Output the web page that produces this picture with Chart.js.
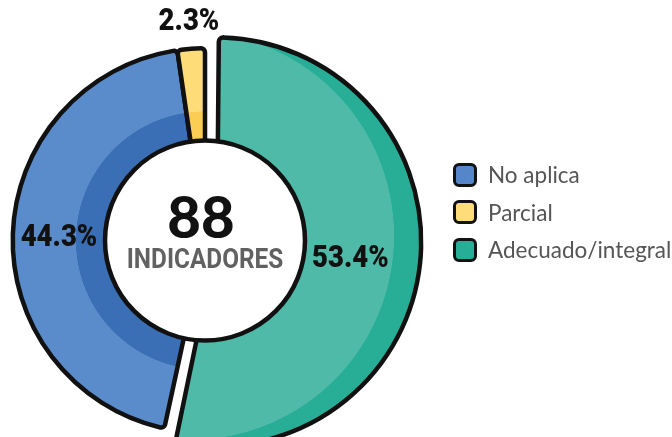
<!DOCTYPE html>
<html lang="es">
<head>
<meta charset="utf-8">
<title>Indicadores</title>
<script src="https://cdn.jsdelivr.net/npm/chart.js@4.4.1/dist/chart.umd.min.js"></script>
<style>
    html, body { margin: 0; padding: 0; background: #fff; }
    #wrap { position: relative; width: 672px; height: 437px; overflow: hidden; }
    /* el lienzo es algo mayor que la ventana para centrar el anillo como en el original */
    #contenedor { position: absolute; left: -14px; top: 0; width: 686px; height: 459px; }
    #leyenda { position: absolute; left: 453px; top: 156px; font-family: Lato, 'Open Sans', sans-serif; }
    .item { display: flex; align-items: center; height: 37.5px; font-size: 22.5px; color: #555; white-space: nowrap; }
    .caja { width: 18px; height: 18px; border: 3px solid #111; border-radius: 6px; margin-right: 11px; }
</style>
</head>
<body>
<div id="wrap">
    <div id="contenedor"><canvas id="grafico"></canvas></div>
    <div id="leyenda"></div>
</div>
<script>
// datos del gráfico
const categorias = ['No aplica', 'Parcial', 'Adecuado/integral'];
const porcentajes = [44.3, 2.3, 53.4];
const totalIndicadores = 88;

// colores de cada segmento (tono claro / tono oscuro)
const coloresClaros = ['#5a8bcb', '#fedd79', '#4fbaa8'];
const coloresOscuros = ['#3a6eb5', '#fbcd55', '#28ae96'];
const coloresLeyenda = ['#5586c9', '#fedd78', '#28ae96'];

const suma = porcentajes.reduce((a, b) => a + b, 0);
const etiquetas = porcentajes.map(v => v.toFixed(1) + '%');

// relleno en dos tonos con un degradado radial de corte duro
function rellenoBanda(ctx) {
    const i = ctx.dataIndex;
    const chart = ctx.chart;
    const area = chart.chartArea;
    const ctrl = chart.getDatasetMeta(0).controller;
    if (i === undefined || !area || !ctrl || !ctrl.outerRadius) return coloresClaros[i] || '#999';

    const R = ctrl.outerRadius;
    let cx = (area.left + area.right) / 2;
    let cy = (area.top + area.bottom) / 2;
    let rb, dentro, fuera;
    if (i === 2) {
        // verde: banda oscura por fuera, en media luna
        cx -= 27;
        cy -= 6;
        rb = R * 1.06;
        dentro = coloresClaros[i];
        fuera = coloresOscuros[i];
    } else {
        rb = R * 0.67;
        dentro = coloresOscuros[i];
        fuera = coloresClaros[i];
    }
    const rMax = R * 1.5;
    const g = chart.ctx.createRadialGradient(cx, cy, 0, cx, cy, rMax);
    const s = rb / rMax;
    g.addColorStop(0, dentro);
    g.addColorStop(s, dentro);
    g.addColorStop(Math.min(s + 0.002, 1), fuera);
    g.addColorStop(1, fuera);
    return g;
}

// texto comprimido a lo ancho
function textoCondensado(c, txt, x, y, escala) {
    c.save();
    c.translate(x, y);
    c.scale(escala, 1);
    c.fillText(txt, 0, 0);
    c.restore();
}

// círculo central, total y etiquetas de porcentaje
const centroPlugin = {
    id: 'centro',
    afterDatasetsDraw(chart) {
        const c = chart.ctx;
        const arcos = chart.getDatasetMeta(0).data;
        const {x, y} = arcos[0].getProps(['x', 'y'], true);

        c.save();
        c.beginPath();
        c.arc(x, y, 100, 0, Math.PI * 2);
        c.fillStyle = '#fff';
        c.fill();
        c.lineWidth = 4.5;
        c.strokeStyle = '#111';
        c.stroke();

        c.textAlign = 'center';
        c.textBaseline = 'alphabetic';
        c.fillStyle = '#111';
        c.font = '900 58px Lato, Roboto, sans-serif';
        c.fillText(String(totalIndicadores), x - 4, y - 3);

        c.fillStyle = '#616161';
        c.font = '700 28px Roboto, sans-serif';
        textoCondensado(c, 'INDICADORES', x, y + 27, 0.87);

        c.fillStyle = '#111';
        c.font = '900 32px Roboto, sans-serif';
        arcos.forEach((arco, i) => {
            const p = arco.getProps(['startAngle', 'endAngle', 'outerRadius'], true);
            const medio = (p.startAngle + p.endAngle) / 2;
            const r = i === 1 ? p.outerRadius + 30 : (100 + p.outerRadius) / 2;
            const lx = x + Math.cos(medio) * r;
            const ly = y + Math.sin(medio) * r;
            textoCondensado(c, etiquetas[i], lx, ly + 11, 0.86);
        });
        c.restore();
    }
};

new Chart(document.getElementById('grafico'), {
    type: 'doughnut',
    data: {
        labels: categorias,
        datasets: [{
            data: porcentajes,
            backgroundColor: rellenoBanda,
            borderColor: '#111',
            borderWidth: 4.5,
            borderRadius: 4,
            borderJoinStyle: 'round',
            offset: [0, 0, 48]
        }]
    },
    options: {
        responsive: true,
        maintainAspectRatio: false,
        animation: false,
        events: [],
        rotation: porcentajes[2] / suma * 360,
        cutout: '35%',
        layout: { padding: { top: 22, bottom: 0, left: 0, right: 248 } },
        plugins: {
            legend: { display: false },
            tooltip: { enabled: false }
        }
    },
    plugins: [centroPlugin]
});

// leyenda
const leyenda = document.getElementById('leyenda');
leyenda.innerHTML = categorias.map((cat, i) => `
    <div class="item"><span class="caja" style="background:${coloresLeyenda[i]}"></span>${cat}</div>
`).join('');
</script>
</body>
</html>
